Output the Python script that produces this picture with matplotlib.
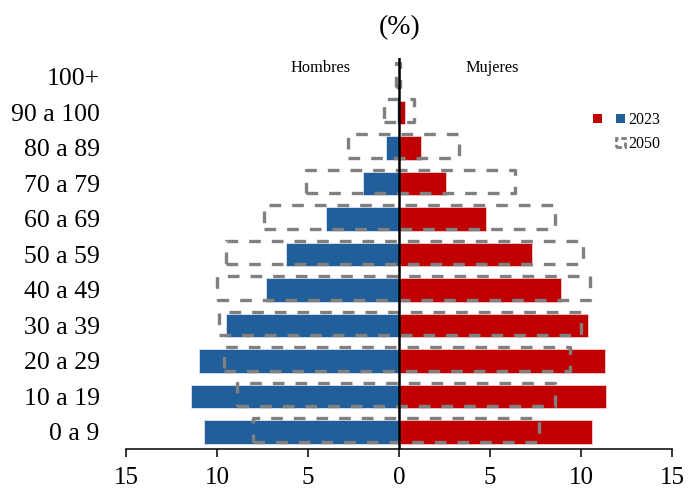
import matplotlib
matplotlib.use('Agg')
import matplotlib.pyplot as plt
import numpy as np
from matplotlib.patches import Patch

plt.rcParams['font.family'] = ['Liberation Serif', 'DejaVu Serif']

# age groups, bottom to top
grupos = ['0 a 9', '10 a 19', '20 a 29', '30 a 39', '40 a 49', '50 a 59',
          '60 a 69', '70 a 79', '80 a 89', '90 a 100', '100+']

# share of population (%)
hombres_2023 = [10.7, 11.4, 11.0, 9.5, 7.3, 6.2, 4.0, 2.0, 0.7, 0.1, 0.02]
mujeres_2023 = [10.6, 11.4, 11.3, 10.4, 8.9, 7.3, 4.8, 2.6, 1.2, 0.35, 0.08]
hombres_2050 = [8.0, 8.9, 9.6, 9.9, 10.0, 9.5, 7.4, 5.1, 2.8, 0.8, 0.15]
mujeres_2050 = [7.7, 8.6, 9.4, 10.0, 10.5, 10.1, 8.6, 6.4, 3.3, 0.85, 0.05]

xticks = [-15, -10, -5, 0, 5, 10, 15]

azul = '#215F9A'
rojo = '#C00000'
gris = '#808080'

fig = plt.figure(figsize=(6.88, 4.93), dpi=100)
ax = fig.add_axes([0.1831, 0.0892, 0.7936, 0.7932])

y = np.arange(len(grupos))
h23 = np.array(hombres_2023)
m23 = np.array(mujeres_2023)
h50 = np.array(hombres_2050)
m50 = np.array(mujeres_2050)

ax.barh(y, -h23, height=0.66, color=azul, edgecolor='#dbe4f0', linewidth=0.6, zorder=2)
ax.barh(y, m23, height=0.66, color=rojo, edgecolor='#f2d0d0', linewidth=0.6, zorder=2)

# 2050 as one dashed outline spanning both sexes
ax.barh(y + 0.05, h50 + m50, left=-h50, height=0.66, fill=False,
        edgecolor=gris, linewidth=2.4, linestyle=(0, (3.5, 3.3)),
        joinstyle='round', zorder=3)

ax.axvline(0, color='black', linewidth=1.8, zorder=4)

ax.set_xlim(-15, 15)
ax.set_ylim(-0.48, 10.53)
ax.set_xticks(xticks)
ax.set_xticklabels([str(abs(t)) for t in xticks], fontsize=18)
ax.set_yticks(y)
ax.set_yticklabels(grupos, fontsize=18.5)
ax.tick_params(axis='y', length=0, pad=19)
ax.tick_params(axis='x', direction='out', length=6, width=1.1, pad=7)

for s in ['top', 'right', 'left']:
    ax.spines[s].set_visible(False)
ax.spines['bottom'].set_linewidth(1.1)

ax.text(-4.3, 10.25, 'Hombres', fontsize=11.8, ha='center', va='center')
ax.text(5.1, 10.25, 'Mujeres', fontsize=11.8, ha='center', va='center')

fig.text(400 / 688, 1 - 28 / 493, '(%)', fontsize=20, ha='center', va='center')

handles = [Patch(facecolor=rojo, edgecolor='none'),
           Patch(facecolor='none', edgecolor='none'),
           Patch(facecolor=azul, edgecolor='none'),
           Patch(facecolor='none', edgecolor=gris, linewidth=2, linestyle=(0, (2, 1)))]
labels = ['', '', '2023', '2050']
ax.legend(handles, labels, ncol=2, frameon=False, fontsize=11.5,
          loc='upper left', bbox_to_anchor=(593 / 688, 1 - 112 / 493),
          bbox_transform=fig.transFigure, borderpad=0, borderaxespad=0,
          handlelength=0.55, handleheight=0.55, handletextpad=0.2,
          columnspacing=0.7, labelspacing=0.5)

fig.savefig('out.png', dpi=100)
